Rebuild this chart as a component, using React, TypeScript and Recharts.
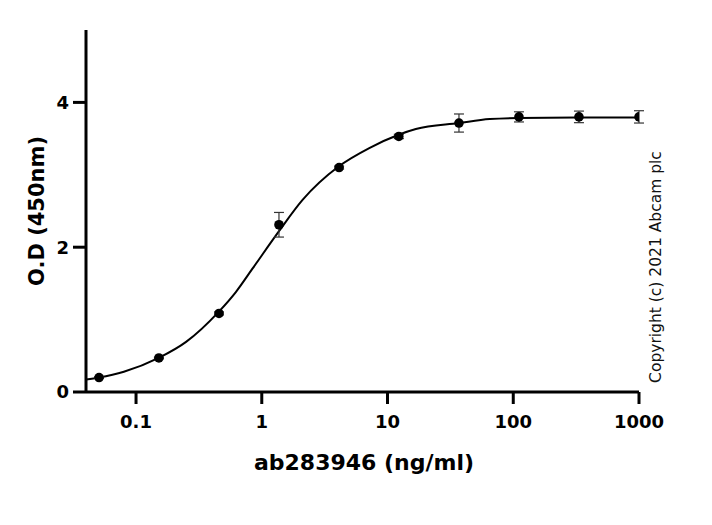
import React from 'react';
import { ComposedChart, Line, Scatter, XAxis, YAxis, ErrorBar, Customized } from 'recharts';

// Measured points (concentration ng/ml, OD 450nm, error)
const concentrations = [0.0508, 0.152, 0.457, 1.37, 4.12, 12.3, 37, 111, 333, 1000];
const odValues = [0.2, 0.47, 1.085, 2.31, 3.1, 3.53, 3.715, 3.8, 3.8, 3.8];
const odErrors = [0.01, 0.01, 0.02, 0.17, 0.02, 0.03, 0.125, 0.07, 0.08, 0.085];

// Fitted curve
const curveX = [0.04, 0.0505, 0.08, 0.1515, 0.25, 0.454, 0.624, 0.846, 1.362, 2.11, 4.08, 7.16, 12.25, 16.8, 37, 65, 111, 333, 1000];
const curveY = [0.172, 0.2, 0.28, 0.471, 0.692, 1.107, 1.384, 1.707, 2.215, 2.653, 3.114, 3.369, 3.553, 3.632, 3.715, 3.77, 3.785, 3.79, 3.79];

const xTicks = [0.1, 1, 10, 100, 1000];
const yTicks = [0, 2, 4];

const pointData = concentrations.map((c, i) => ({ x: c, od: odValues[i], err: odErrors[i] }));
const curveData = curveX.map((c, i) => ({ x: c, y: curveY[i] }));

const FONT = '"DejaVu Sans", sans-serif';

const tickStyle = { fill: '#000', fontFamily: FONT, fontWeight: 'bold', fontSize: 18 };

const Texts = () => (
  <g>
    <text x={37} y={211} transform="rotate(-90 37 211)" textAnchor="middle" dominantBaseline="central"
      style={{ fontFamily: FONT, fontWeight: 'bold', fontSize: 21, fill: '#000' }}>O.D (450nm)</text>
    <text x={364} y={462} textAnchor="middle" dominantBaseline="central"
      style={{ fontFamily: FONT, fontWeight: 'bold', fontSize: 22, fill: '#000' }}>ab283946 (ng/ml)</text>
    <text x={656} y={267} transform="rotate(-90 656 267)" textAnchor="middle" dominantBaseline="central"
      style={{ fontFamily: FONT, fontWeight: 'normal', fontSize: 15.5, fill: '#111' }}>Copyright (c) 2021 Abcam plc</text>
  </g>
);

const Dot = (props: any) => <circle cx={props.cx} cy={props.cy} r={4.8} fill="#000" />;

export default function App() {
  return (
    <div style={{ position: 'absolute', left: 0, top: 0, width: 712, height: 525, background: '#fff' }}>
      <ComposedChart width={712} height={525} margin={{ top: 30, right: 73, bottom: 93, left: 0 }}>
        <XAxis
          dataKey="x"
          type="number"
          scale="log"
          domain={[0.04, 1000]}
          allowDataOverflow
          ticks={xTicks}
          tickFormatter={(v: number) => String(v)}
          height={40}
          tickSize={12}
          tickMargin={11}
          axisLine={{ stroke: '#000', strokeWidth: 3 }}
          tickLine={{ stroke: '#000', strokeWidth: 3 }}
          tick={tickStyle}
        />
        <YAxis
          type="number"
          domain={[0, 5]}
          ticks={yTicks}
          width={86}
          tickSize={13}
          tickMargin={4}
          axisLine={{ stroke: '#000', strokeWidth: 3 }}
          tickLine={{ stroke: '#000', strokeWidth: 3 }}
          tick={tickStyle}
        />
        <Line data={curveData} dataKey="y" type="monotone" stroke="#000" strokeWidth={2} dot={false} isAnimationActive={false} />
        <Scatter data={pointData} dataKey="od" shape={Dot} isAnimationActive={false}>
          <ErrorBar dataKey="err" direction="y" width={5} stroke="#333" strokeWidth={1.2} />
        </Scatter>
        <Customized component={Texts} />
      </ComposedChart>
    </div>
  );
}
